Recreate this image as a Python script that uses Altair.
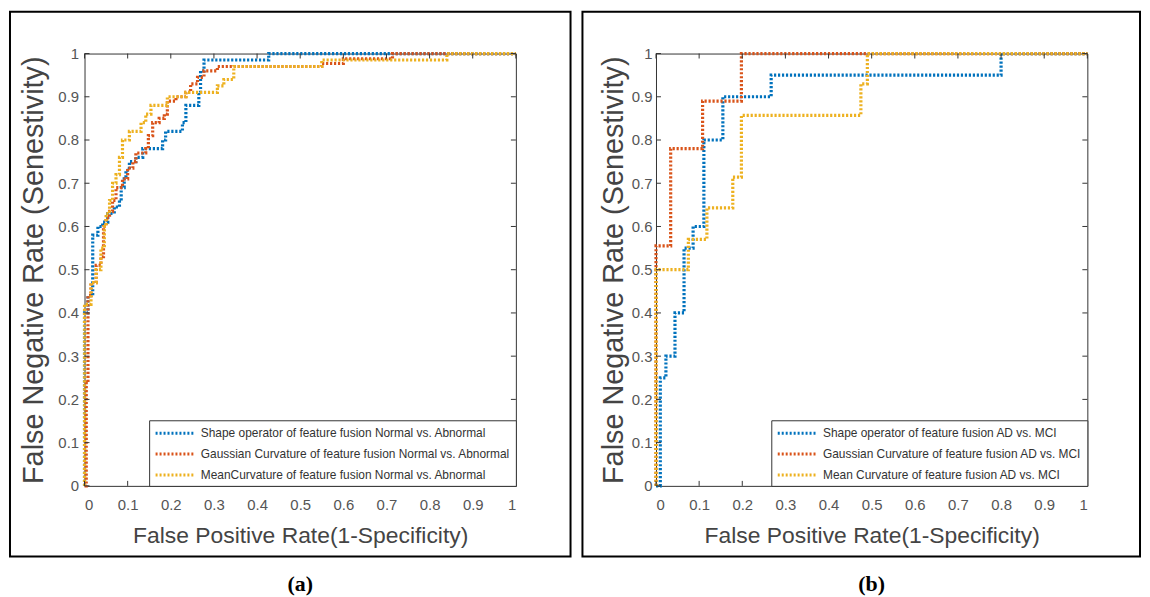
import altair as alt
import pandas as pd

W, H = 434, 435

tick_values = [0, 0.1, 0.2, 0.3, 0.4, 0.5, 0.6, 0.7, 0.8, 0.9, 1]

# ---------- panel (a): Normal vs. Abnormal ----------
names_a = [
    "Shape operator of feature fusion Normal vs. Abnormal",
    "Gaussian Curvature of feature fusion Normal vs. Abnormal",
    "MeanCurvature of feature fusion Normal vs. Abnormal",
]
a_shape_fpr = [0, 0, 0.008, 0.019, 0.031, 0.042, 0.054, 0.069, 0.081, 0.085, 0.092, 0.096,
               0.104, 0.119, 0.135, 0.181, 0.188, 0.227, 0.235, 0.265, 0.269, 0.277, 0.427, 1.0]
a_shape_tpr = [0, 0.40, 0.44, 0.58, 0.60, 0.61, 0.63, 0.645, 0.66, 0.69, 0.71, 0.73,
               0.75, 0.76, 0.78, 0.80, 0.82, 0.84, 0.88, 0.91, 0.96, 0.985, 1.0, 1.0]
a_gauss_fpr = [0, 0.004, 0.008, 0.015, 0.027, 0.038, 0.044, 0.05, 0.058, 0.065, 0.073, 0.088,
               0.1, 0.112, 0.119, 0.142, 0.148, 0.158, 0.173, 0.185, 0.192, 0.212, 0.235,
               0.246, 0.262, 0.277, 0.308, 0.55, 0.60, 0.714, 1.0]
a_gauss_tpr = [0, 0.24, 0.44, 0.47, 0.51, 0.53, 0.60, 0.62, 0.635, 0.66, 0.69, 0.71,
               0.735, 0.75, 0.77, 0.78, 0.81, 0.84, 0.85, 0.86, 0.89, 0.90, 0.91,
               0.93, 0.945, 0.96, 0.97, 0.977, 0.988, 1.0, 1.0]
a_mean_fpr = [0, 0, 0.015, 0.027, 0.038, 0.046, 0.05, 0.058, 0.065, 0.073, 0.081, 0.088,
              0.104, 0.131, 0.142, 0.154, 0.192, 0.235, 0.308, 0.323, 0.346, 0.55, 0.84, 1.0]
a_mean_tpr = [0, 0.42, 0.47, 0.50, 0.55, 0.60, 0.63, 0.66, 0.70, 0.72, 0.76, 0.80,
              0.82, 0.84, 0.86, 0.88, 0.90, 0.91, 0.925, 0.94, 0.97, 0.985, 1.0, 1.0]

# ---------- panel (b): AD vs. MCI ----------
names_b = [
    "Shape operator of feature fusion AD vs. MCI",
    "Gaussian Curvature of feature fusion AD vs. MCI",
    "Mean Curvature of feature fusion AD vs. MCI",
]
b_shape_fpr = [0, 0.01, 0.023, 0.044, 0.065, 0.086, 0.111, 0.155, 0.267, 0.80, 1.0]
b_shape_tpr = [0, 0.25, 0.30, 0.40, 0.55, 0.60, 0.80, 0.90, 0.95, 1.0, 1.0]
b_gauss_fpr = [0, 0, 0.034, 0.108, 0.198, 1.0]
b_gauss_tpr = [0, 0.555, 0.78, 0.89, 1.0, 1.0]
b_mean_fpr = [0, 0, 0.075, 0.118, 0.178, 0.198, 0.475, 0.49, 1.0]
b_mean_tpr = [0, 0.50, 0.57, 0.643, 0.714, 0.857, 0.93, 1.0, 1.0]

colors = ["#0072BD", "#D95319", "#EDB120"]
FONT = "Liberation Sans, Arial, sans-serif"
XTITLE = "False Positive Rate(1-Specificity)"
YTITLE = "False Negative Rate (Senestivity)"


def make_df(names, fprs, tprs):
    rows = []
    for name, xs, ys in zip(names, fprs, tprs):
        for i, (x, y) in enumerate(zip(xs, ys)):
            rows.append({"series": name, "fpr": x, "tpr": y, "idx": i})
    return pd.DataFrame(rows)


def panel(df, names, tag, box_x, box_x2, ytitle_pad, ylabel_pad):
    xs = alt.Scale(domain=[0, 1], nice=False, zero=False)
    ys = alt.Scale(domain=[0, 1], nice=False, zero=False)
    xax = alt.Axis(values=tick_values, format="~g", title=XTITLE,
                   labelPadding=12, titlePadding=12)
    yax = alt.Axis(values=tick_values, format="~g", title=YTITLE,
                   labelPadding=ylabel_pad, titlePadding=ytitle_pad)
    lines = alt.Chart(df).mark_line(
        interpolate="step-after", strokeWidth=3.2, strokeDash=[2.2, 1.8]
    ).encode(
        x=alt.X("fpr:Q", scale=xs, axis=xax, title=XTITLE),
        y=alt.Y("tpr:Q", scale=ys, axis=yax, title=YTITLE),
        color=alt.Color("series:N", scale=alt.Scale(domain=names, range=colors),
                        legend=alt.Legend(
                            orient="bottom-right", offset=0, title=None, padding=5,
                            strokeColor="#333", fillColor="white",
                            labelFont=FONT, labelFontSize=12, labelColor="#333",
                            labelLimit=0, symbolType="M-1,0H5", symbolSize=169,
                            symbolStrokeWidth=3, symbolDash=[2, 2], labelOffset=31,
                            rowPadding=7, symbolOffset=0)),
        order="idx:Q",
    )
    tdf = pd.DataFrame({"t": tick_values})
    tick_b = alt.Chart(tdf).mark_rule(color="#333").encode(
        x=alt.X("t:Q", scale=xs, axis=xax, title=XTITLE), y=alt.value(H), y2=alt.value(H - 5))
    tick_t = alt.Chart(tdf).mark_rule(color="#333").encode(
        x=alt.X("t:Q", scale=xs, axis=xax, title=XTITLE), y=alt.value(0), y2=alt.value(5))
    tick_l = alt.Chart(tdf).mark_rule(color="#333").encode(
        y=alt.Y("t:Q", scale=ys, axis=yax, title=YTITLE), x=alt.value(0), x2=alt.value(5))
    tick_r = alt.Chart(tdf).mark_rule(color="#333").encode(
        y=alt.Y("t:Q", scale=ys, axis=yax, title=YTITLE), x=alt.value(W), x2=alt.value(W - 5))
    one = pd.DataFrame({"k": [0]})
    box = alt.Chart(one).mark_rect(filled=False, stroke="black", strokeWidth=2).encode(
        x=alt.value(box_x), x2=alt.value(box_x2), y=alt.value(-42), y2=alt.value(H + 71))
    label = alt.Chart(one).mark_text(
        text=tag, font="Liberation Serif, Times New Roman, serif", fontWeight="bold",
        fontSize=22, color="black", align="center", baseline="middle"
    ).encode(x=alt.value(W / 2), y=alt.value(H + 99))
    return alt.layer(lines, tick_b, tick_t, tick_l, tick_r, box, label).properties(
        width=W, height=H)


pa = panel(make_df(names_a, [a_shape_fpr, a_gauss_fpr, a_mean_fpr],
                   [a_shape_tpr, a_gauss_tpr, a_mean_tpr]),
           names_a, "(a)", -75, W + 55, 9, 6)
pb = panel(make_df(names_b, [b_shape_fpr, b_gauss_fpr, b_mean_fpr],
                   [b_shape_tpr, b_gauss_tpr, b_mean_tpr]),
           names_b, "(b)", -74, W + 53, 3, 4)

chart = alt.hconcat(pa, pb, spacing=8).resolve_scale(
    color="independent").resolve_legend(color="independent").properties(
    padding=0, background="white"
).configure_view(stroke="#333", strokeWidth=1).configure_axis(
    grid=False, domain=False, ticks=False,
    labelFont=FONT, labelFontSize=15, labelColor="#555",
    titleFont=FONT, titleFontWeight="normal", titleColor="#444",
).configure_axisX(titleFontSize=23).configure_axisY(titleFontSize=29)

chart.save("out.html", embed_options={"renderer": "svg", "actions": False})
